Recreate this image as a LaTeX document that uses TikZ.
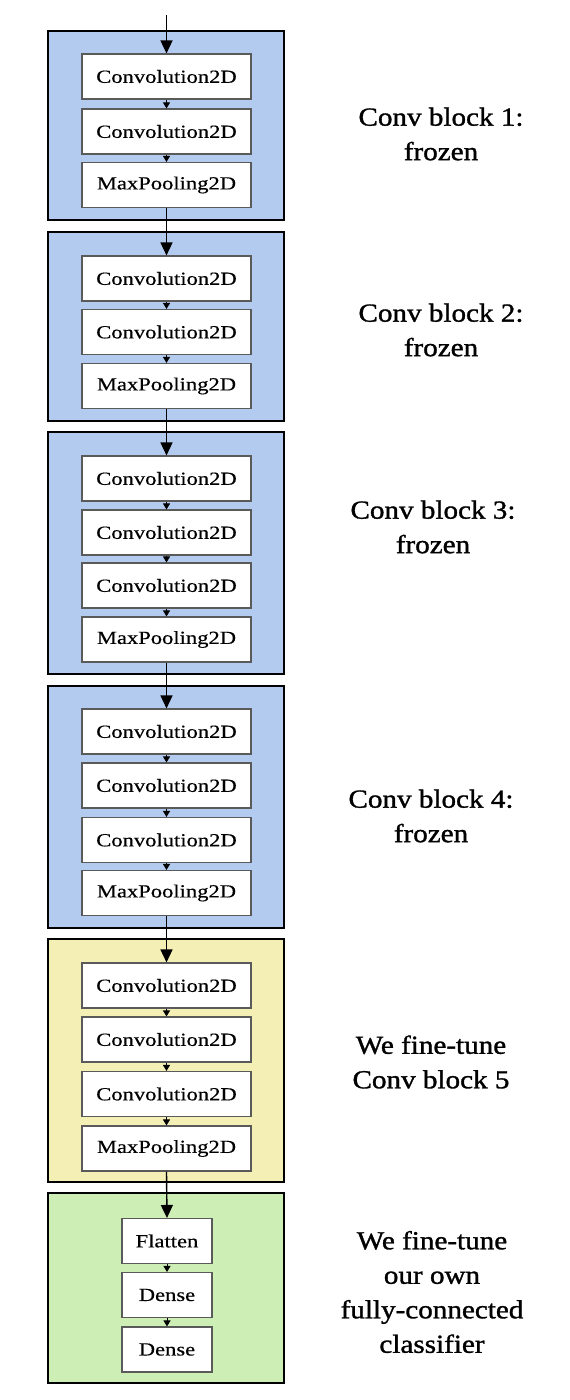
\documentclass[tikz,border=0pt]{standalone}
\usepackage{fontspec}
\usetikzlibrary{arrows.meta}
\newfontfamily\boxfont[FakeStretch=1.22,FakeBold=0.4]{Liberation Serif}
\newfontfamily\labfont[FakeStretch=1.12,FakeBold=1.2]{Liberation Serif}
\definecolor{frozenblue}{RGB}{180,203,240}
\definecolor{tuneyellow}{RGB}{244,240,181}
\definecolor{clsgreen}{RGB}{205,238,181}
\definecolor{boxgray}{RGB}{90,90,90}
\tikzset{
  blk/.style={draw=black, line width=1.8pt, minimum width=236pt, inner sep=0pt},
  cbox/.style={draw=boxgray, line width=1.1pt, fill=white, minimum width=169pt, minimum height=45pt, inner sep=0pt, font=\boxfont\fontsize{18.5}{22}\selectfont},
  dbox/.style={cbox, minimum width=90pt},
  bigarrow/.style={draw=black, line width=1.4pt, -{Triangle[length=13pt,width=12pt]}},
  smallarrow/.style={draw=black, line width=1pt, -{Triangle[length=6pt,width=7pt]}},
  lab/.style={align=center, inner sep=0pt, font=\labfont\fontsize{26}{34.5}\selectfont}
}
\begin{document}
\begin{tikzpicture}[x=1pt,y=-1pt]
\useasboundingbox (0,0) rectangle (570,1400);
% outer blocks
\node[blk, fill=frozenblue, minimum height=189pt] (B1) at (166,125.5) {};
\node[blk, fill=frozenblue, minimum height=189pt] (B2) at (166,326.5) {};
\node[blk, fill=frozenblue, minimum height=242pt] (B3) at (166,553) {};
\node[blk, fill=frozenblue, minimum height=242pt] (B4) at (166,807) {};
\node[blk, fill=tuneyellow, minimum height=243pt] (B5) at (166,1060.5) {};
\node[blk, fill=clsgreen, minimum height=190pt] (B6) at (166,1288) {};
% block 1
\node[cbox] (b11) at (166.5,76.5) {Convolution2D};
\node[cbox] (b12) at (166.5,131.5) {Convolution2D};
\node[cbox] (b13) at (166.5,185) {MaxPooling2D};
% block 2
\node[cbox] (b21) at (166.5,278.5) {Convolution2D};
\node[cbox] (b22) at (166.5,332) {Convolution2D};
\node[cbox] (b23) at (166.5,386) {MaxPooling2D};
% block 3
\node[cbox] (b31) at (166.5,478.5) {Convolution2D};
\node[cbox] (b32) at (166.5,532.5) {Convolution2D};
\node[cbox] (b33) at (166.5,585.5) {Convolution2D};
\node[cbox] (b34) at (166.5,639.5) {MaxPooling2D};
% block 4
\node[cbox] (b41) at (166.5,731.5) {Convolution2D};
\node[cbox] (b42) at (166.5,785.5) {Convolution2D};
\node[cbox] (b43) at (166.5,840) {Convolution2D};
\node[cbox] (b44) at (166.5,893) {MaxPooling2D};
% block 5
\node[cbox] (b51) at (166.5,985.5) {Convolution2D};
\node[cbox] (b52) at (166.5,1039.5) {Convolution2D};
\node[cbox] (b53) at (166.5,1094) {Convolution2D};
\node[cbox] (b54) at (166.5,1148.5) {MaxPooling2D};
% block 6
\node[dbox] (b61) at (167,1241) {Flatten};
\node[dbox] (b62) at (167,1295) {Dense};
\node[dbox] (b63) at (167,1349.5) {Dense};
% input
\coordinate (in) at (166.5,15);
\draw[bigarrow] (in) -- (b11.north);
\draw[bigarrow] (b13.south) -- (b21.north);
\draw[bigarrow] (b23.south) -- (b31.north);
\draw[bigarrow] (b34.south) -- (b41.north);
\draw[bigarrow] (b44.south) -- (b51.north);
\draw[bigarrow] (b54.south) -- (b61.north);
% inner arrows
\draw[smallarrow] (b11.south) -- (b12.north);
\draw[smallarrow] (b12.south) -- (b13.north);
\draw[smallarrow] (b21.south) -- (b22.north);
\draw[smallarrow] (b22.south) -- (b23.north);
\draw[smallarrow] (b31.south) -- (b32.north);
\draw[smallarrow] (b32.south) -- (b33.north);
\draw[smallarrow] (b33.south) -- (b34.north);
\draw[smallarrow] (b41.south) -- (b42.north);
\draw[smallarrow] (b42.south) -- (b43.north);
\draw[smallarrow] (b43.south) -- (b44.north);
\draw[smallarrow] (b51.south) -- (b52.north);
\draw[smallarrow] (b52.south) -- (b53.north);
\draw[smallarrow] (b53.south) -- (b54.north);
\draw[smallarrow] (b61.south) -- (b62.north);
\draw[smallarrow] (b62.south) -- (b63.north);
% labels
\node[lab] (L1) at (441,134) {Conv block 1:\\frozen};
\node[lab] (L2) at (441,330) {Conv block 2:\\frozen};
\node[lab] (L3) at (433,527) {Conv block 3:\\frozen};
\node[lab] (L4) at (431,816) {Conv block 4:\\frozen};
\node[lab] (L5) at (431,1062) {We fine-tune\\Conv block 5};
\node[lab] (L6) at (432,1292) {We fine-tune\\our own\\fully-connected\\classifier};
\end{tikzpicture}
\end{document}
